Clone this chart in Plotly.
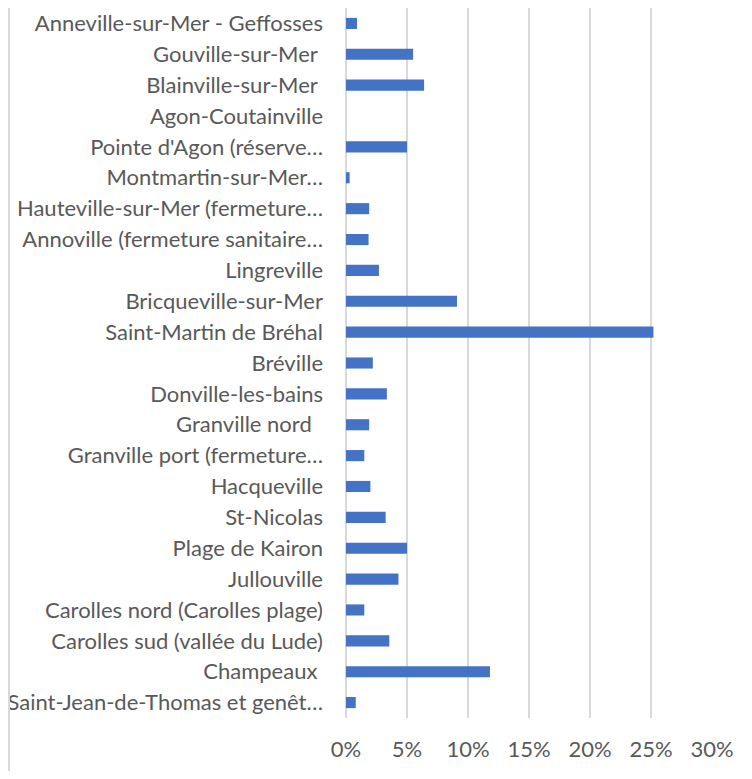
import plotly.graph_objects as go

categories = [
    "Anneville-sur-Mer - Geffosses",
    "Gouville-sur-Mer\u00a0",
    "Blainville-sur-Mer\u00a0",
    "Agon-Coutainville",
    "Pointe d'Agon (réserve…",
    "Montmartin-sur-Mer…",
    "Hauteville-sur-Mer (fermeture…",
    "Annoville (fermeture sanitaire…",
    "Lingreville",
    "Bricqueville-sur-Mer",
    "Saint-Martin de Bréhal",
    "Bréville",
    "Donville-les-bains",
    "Granville nord\u00a0\u00a0",
    "Granville port (fermeture…",
    "Hacqueville",
    "St-Nicolas",
    "Plage de Kairon",
    "Jullouville",
    "Carolles nord (Carolles plage)",
    "Carolles sud (vallée du Lude)",
    "Champeaux\u00a0",
    "Saint-Jean-de-Thomas et genêt…",
]

values = [
    0.009, 0.055, 0.064, 0.0, 0.050, 0.003, 0.019, 0.0185,
    0.027, 0.091, 0.252, 0.022, 0.0335, 0.019, 0.015, 0.020,
    0.0325, 0.050, 0.043, 0.015, 0.0355, 0.118, 0.008,
]

x_ticks = [0, 0.05, 0.10, 0.15, 0.20, 0.25, 0.30]
x_ticklabels = ["0%", "5%", "10%", "15%", "20%", "25%", "30%"]

# The page body adds an 8px margin, so the figure is sized to fit inside it.
W, H = 744, 763
ML, MR, MT, MB = 338, 40, 0, 53
FONT = "Lato, 'Open Sans', sans-serif"
TXT = "#595959"
GRID = "#d9d9d9"

fig = go.Figure(
    go.Bar(
        x=values,
        y=categories,
        orientation="h",
        marker=dict(color="#4472C4", line=dict(width=0)),
        hoverinfo="x+y",
    )
)

plot_w = W - ML - MR
plot_h = H - MT - MB
fig.update_layout(
    width=W,
    height=H,
    margin=dict(l=ML, r=MR, t=MT, b=MB, pad=0, autoexpand=False),
    paper_bgcolor="white",
    plot_bgcolor="white",
    bargap=0.64,
    showlegend=False,
    font=dict(family=FONT, size=22, color=TXT),
    xaxis=dict(
        range=[0, 0.30],
        tickvals=x_ticks,
        ticktext=x_ticklabels,
        showgrid=True,
        gridcolor=GRID,
        gridwidth=1.5,
        zeroline=True,
        zerolinecolor=GRID,
        zerolinewidth=1.5,
        showline=False,
        ticks="",
        ticklabelstandoff=16,
        tickfont=dict(family=FONT, size=22, color=TXT),
        fixedrange=True,
        automargin=False,
    ),
    yaxis=dict(
        categoryorder="array",
        categoryarray=categories,
        autorange="reversed",
        showgrid=False,
        zeroline=False,
        showline=False,
        ticks="",
        ticklabelstandoff=22,
        tickfont=dict(family=FONT, size=22, color=TXT),
        fixedrange=True,
        automargin=False,
    ),
    shapes=[
        dict(
            type="line",
            xref="paper",
            yref="paper",
            x0=(1 - ML) / plot_w,
            x1=(1 - ML) / plot_w,
            y0=-MB / plot_h,
            y1=1 + MT / plot_h,
            line=dict(color=GRID, width=2),
        )
    ],
)

fig.write_html("out.html")
